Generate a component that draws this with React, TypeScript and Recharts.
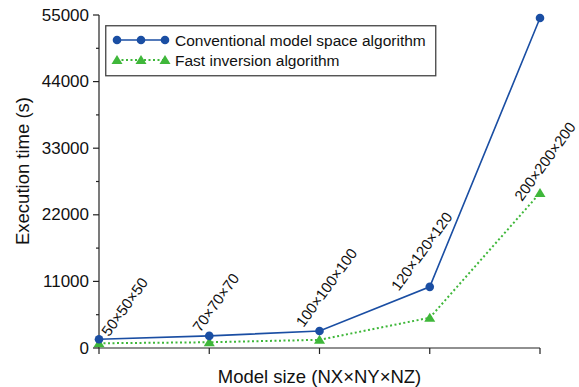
import React from 'react'
import { LineChart, Line, XAxis, YAxis, Legend, LabelList, Label } from 'recharts'

// model sizes (x categories)
const sizes = ['50×50×50', '70×70×70', '100×100×100', '120×120×120', '200×200×200']
// execution time (s)
const conventional = [1450, 2000, 2800, 10100, 54500]
const fast = [780, 950, 1350, 5000, 25600]
const yTicks = [0, 5500, 11000, 16500, 22000, 27500, 33000, 38500, 44000, 49500, 55000]

const data = sizes.map((name, i) => ({ idx: i, name, conventional: conventional[i], fast: fast[i] }))

const W = 579
const H = 387
const MARGIN = { top: 15, right: 39, left: 0, bottom: 0 }
const YAXIS_W = 99
const XAXIS_H = 39
const AXIS_X = MARGIN.left + YAXIS_W
const AXIS_Y = H - MARGIN.bottom - XAXIS_H

const BLUE = '#1a4ea3'
const GREEN = '#3fb73a'
const AXIS = '#222'
const FONT = '"Liberation Sans", Arial, sans-serif'

// pixel nudges for the rotated size labels
const labelShift = [
  [10, -2],
  [-9, -3],
  [-16, -3],
  [-31, 5],
  [-18, 9],
]

const Triangle = ({ cx, cy }: any) => (
  <path d={`M${cx},${cy - 5} L${cx + 5.5},${cy + 4} L${cx - 5.5},${cy + 4} Z`} fill={GREEN} />
)

const YTick = ({ y, payload }: any) => {
  const major = payload.value % 11000 === 0
  return (
    <g>
      <line x1={AXIS_X - (major ? 6 : 3)} x2={AXIS_X} y1={y} y2={y} stroke={AXIS} strokeWidth={1.2} />
      {major && (
        <text x={AXIS_X - 10} y={y} textAnchor="end" dominantBaseline="central" fontSize={17} fill="#111">
          {payload.value}
        </text>
      )}
    </g>
  )
}

const XTick = ({ x }: any) => (
  <line x1={x} x2={x} y1={AXIS_Y} y2={AXIS_Y + 6} stroke={AXIS} strokeWidth={1.2} />
)

const SizeLabel = (only: number[]) => (props: any) => {
  const { x, y, index, value } = props
  if (!only.includes(index)) return null
  const tx = x + labelShift[index][0]
  const ty = y + labelShift[index][1]
  return (
    <text x={tx} y={ty} fontSize={15} fill="#111" textAnchor="start" transform={`rotate(-54 ${tx} ${ty})`}>
      {value}
    </text>
  )
}

const LegendBox = () => (
  <svg width={332} height={52}>
    <rect x={0.75} y={0.75} width={330} height={50} fill="#fff" stroke="#444" strokeWidth={1.3} />
    <line x1={12} x2={60} y1={15} y2={15} stroke={BLUE} strokeWidth={1.6} />
    {[12, 36, 60].map(cx => <circle key={cx} cx={cx} cy={15} r={4.3} fill={BLUE} />)}
    <text x={70} y={15} dominantBaseline="central" fontSize={15.5} fill="#111">Conventional model space algorithm</text>
    <line x1={12} x2={60} y1={35} y2={35} stroke={GREEN} strokeWidth={2} strokeDasharray="2 2.5" />
    {[12, 36, 60].map(cx => <Triangle key={cx} cx={cx} cy={35} />)}
    <text x={70} y={35} dominantBaseline="central" fontSize={15.5} fill="#111">Fast inversion algorithm</text>
  </svg>
)

export default function App() {
  return (
    <div style={{ position: 'absolute', left: 0, top: 0, background: '#fff' }}>
      <LineChart width={W} height={H} data={data} margin={MARGIN} style={{ fontFamily: FONT }}>
        <XAxis
          dataKey="idx"
          type="number"
          domain={[0, 4]}
          ticks={[0, 1, 2, 3, 4]}
          height={XAXIS_H}
          stroke={AXIS}
          strokeWidth={1.2}
          tickLine={false}
          tick={<XTick />}
        >
          <Label
            content={() => (
              <text x={(AXIS_X + W - MARGIN.right) / 2} y={376} textAnchor="middle" dominantBaseline="central" fontSize={18.5} fill="#111">
                Model size (NX×NY×NZ)
              </text>
            )}
          />
        </XAxis>
        <YAxis
          type="number"
          domain={[0, 55000]}
          ticks={yTicks}
          width={YAXIS_W}
          stroke={AXIS}
          strokeWidth={1.2}
          tickLine={false}
          tick={<YTick />}
          interval={0}
        >
          <Label
            content={() => (
              <text x={22} y={171} textAnchor="middle" dominantBaseline="central" fontSize={18.5} fill="#111" transform="rotate(-90 22 171)">
                Execution time (s)
              </text>
            )}
          />
        </YAxis>
        <Legend
          layout="vertical"
          align="center"
          verticalAlign="middle"
          content={<LegendBox />}
          wrapperStyle={{ position: 'absolute', left: 105, top: 25, width: 332, height: 52 }}
        />
        <Line
          dataKey="fast"
          stroke={GREEN}
          strokeWidth={2}
          strokeDasharray="2 2.5"
          dot={<Triangle />}
          activeDot={false}
          isAnimationActive={false}
        >
          <LabelList dataKey="name" content={SizeLabel([4])} />
        </Line>
        <Line
          dataKey="conventional"
          stroke={BLUE}
          strokeWidth={1.6}
          dot={{ r: 4.3, fill: BLUE, stroke: 'none' }}
          activeDot={false}
          isAnimationActive={false}
        >
          <LabelList dataKey="name" content={SizeLabel([0, 1, 2, 3])} />
        </Line>
      </LineChart>
    </div>
  )
}
